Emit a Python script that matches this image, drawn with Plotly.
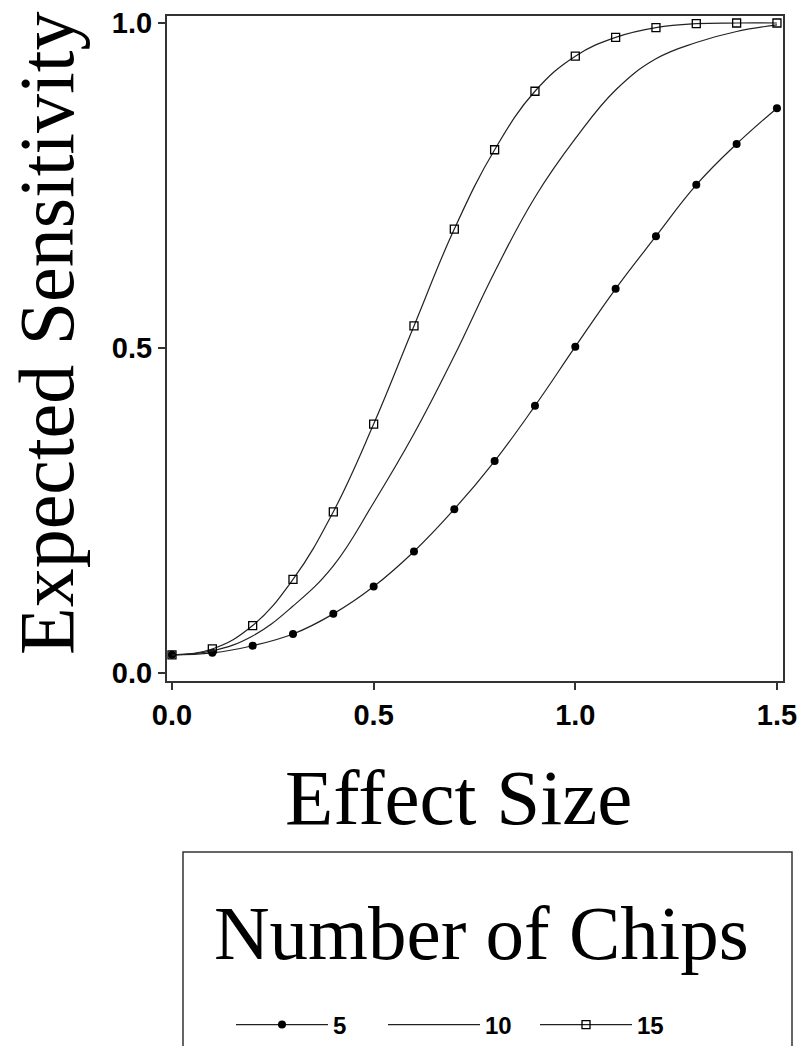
import plotly.graph_objects as go

effect_size = [0.0, 0.1, 0.2, 0.3, 0.4, 0.5, 0.6, 0.7, 0.8, 0.9, 1.0, 1.1, 1.2, 1.3, 1.4, 1.5]
chips5 = [0.028, 0.031, 0.042, 0.060, 0.091, 0.133, 0.187, 0.252, 0.326, 0.411, 0.502, 0.591, 0.672, 0.751, 0.814, 0.869]
chips10 = [0.028, 0.034, 0.057, 0.103, 0.165, 0.262, 0.368, 0.488, 0.617, 0.732, 0.822, 0.897, 0.945, 0.970, 0.987, 0.997]
chips15 = [0.028, 0.037, 0.073, 0.144, 0.248, 0.383, 0.534, 0.683, 0.805, 0.895, 0.949, 0.978, 0.993, 0.999, 1.0, 1.0]
series_names = ["5", "10", "15"]
x_ticks = [0.0, 0.5, 1.0, 1.5]
y_ticks = [0.0, 0.5, 1.0]
legend_title = "Number of Chips"
x_title = "Effect Size"
y_title = "Expected Sensitivity"

W, H = 804, 1046
ML, MR, MT, MB = 167, 21, 16, 365
PW, PH = W - ML - MR, H - MT - MB


def px_x(p):
    return (p - ML) / PW


def px_y(p):
    return (H - MB - p) / PH


LINE = "#222222"
fig = go.Figure()
fig.add_trace(go.Scatter(x=effect_size, y=chips5, name=series_names[0], mode="lines+markers",
                         line=dict(color=LINE, width=1.2, shape="spline", smoothing=1.2),
                         marker=dict(symbol="circle", size=8, color="black")))
fig.add_trace(go.Scatter(x=effect_size, y=chips10, name=series_names[1], mode="lines",
                         line=dict(color=LINE, width=1.2, shape="spline", smoothing=1.2)))
fig.add_trace(go.Scatter(x=effect_size, y=chips15, name=series_names[2], mode="lines+markers",
                         line=dict(color=LINE, width=1.2, shape="spline", smoothing=1.2),
                         marker=dict(symbol="square-open", size=8, color="black", line=dict(width=1.3))))

serif = "Liberation Serif, Times New Roman, serif"
sans = "Liberation Sans, Arial, sans-serif"

fig.update_layout(
    width=W, height=H,
    margin=dict(l=ML, r=MR, t=MT, b=MB, autoexpand=False),
    plot_bgcolor="white", paper_bgcolor="white",
    showlegend=True,
    legend=dict(
        orientation="h", x=px_x(231), xanchor="left", y=px_y(1025), yanchor="middle",
        font=dict(family=sans, size=24, color="black", weight="bold"),
        borderwidth=0, bgcolor="rgba(0,0,0,0)",
        itemwidth=92, entrywidth=45, entrywidthmode="pixels",
    ),
    xaxis=dict(
        range=[-0.0124, 1.515], tickvals=x_ticks, ticktext=[f"{v:.1f}" for v in x_ticks],
        showgrid=False, zeroline=False, showline=True, mirror=True, linecolor="#333333", linewidth=2,
        ticks="outside", ticklen=7, tickcolor="#333333", tickwidth=1.5, automargin=False,
        tickfont=dict(family=sans, size=29, color="black", weight="bold"),
    ),
    yaxis=dict(
        range=[-0.0123, 1.0108], tickvals=y_ticks, ticktext=[f"{v:.1f}" for v in y_ticks],
        showgrid=False, zeroline=False, showline=True, mirror=True, linecolor="#333333", linewidth=2,
        ticks="outside", ticklen=7, tickcolor="#333333", tickwidth=1.5, automargin=False,
        tickfont=dict(family=sans, size=29, color="black", weight="bold"),
    ),
    shapes=[dict(type="rect", xref="paper", yref="paper",
                 x0=px_x(183), x1=px_x(792), y0=px_y(852), y1=px_y(1060),
                 line=dict(color="#333333", width=1.5), fillcolor="rgba(0,0,0,0)", layer="below")],
    annotations=[
        dict(text=legend_title, xref="paper", yref="paper", x=px_x(481), y=px_y(933),
             xanchor="center", yanchor="middle", showarrow=False,
             font=dict(family=serif, size=77, color="black")),
        dict(text=x_title, xref="paper", yref="paper", x=px_x(458), y=px_y(798),
             xanchor="center", yanchor="middle", showarrow=False,
             font=dict(family=serif, size=79, color="black")),
        dict(text=y_title, xref="paper", yref="paper", x=px_x(46), y=px_y(334), textangle=-90,
             xanchor="center", yanchor="middle", showarrow=False,
             font=dict(family=serif, size=78, color="black")),
    ],
)

fig.write_html("out.html", config={"displayModeBar": False},
               post_script="document.body.style.margin='0';")
